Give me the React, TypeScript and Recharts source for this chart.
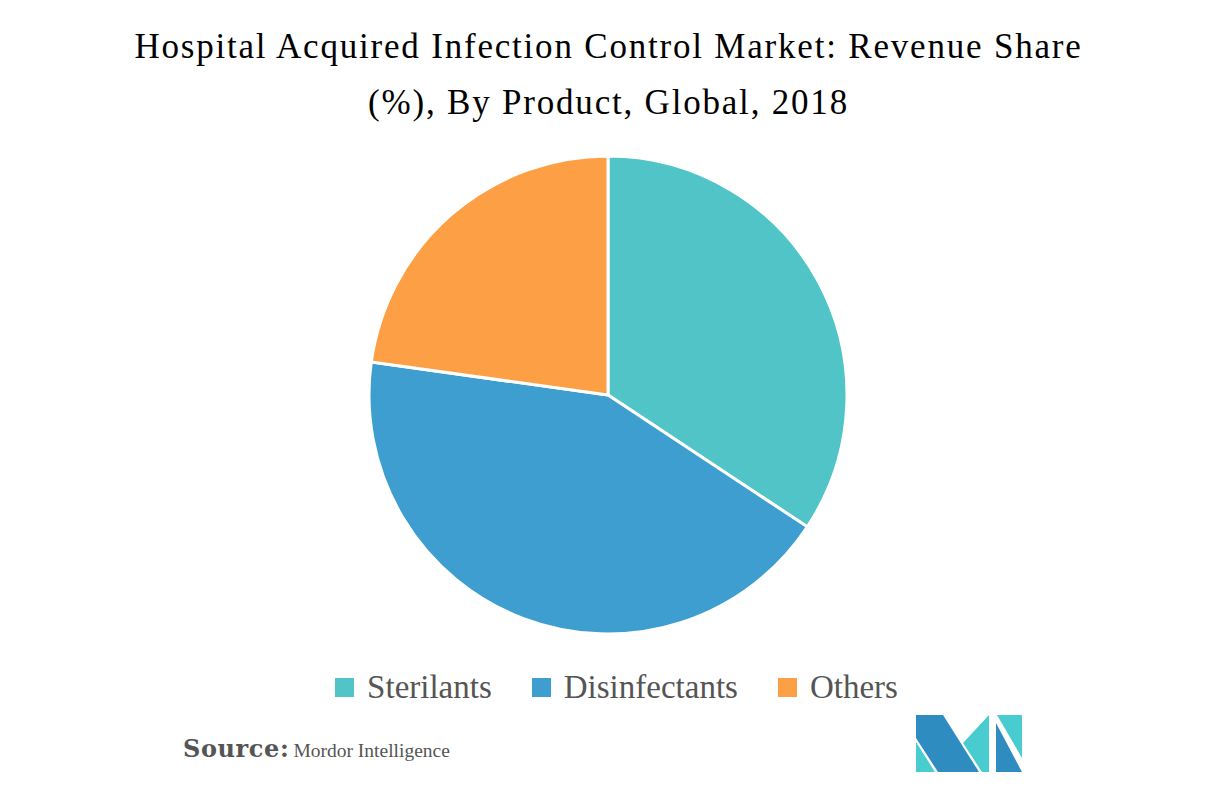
import React from 'react';
import { PieChart, Pie, Cell } from 'recharts';

// ---------------------------------------------------------------------------
// Data
// ---------------------------------------------------------------------------

const products = ['Sterilants', 'Disinfectants', 'Others'];
const shares = [34.3, 42.9, 22.8];
const colors = ['#50C4C7', '#3E9ECF', '#FDA045'];

const titleLines = [
  'Hospital Acquired Infection Control Market: Revenue Share',
  '(%), By Product, Global, 2018',
];

const chartData = products.map((name, i) => ({ name, value: shares[i] }));

const SERIF = '"Liberation Serif", "Times New Roman", serif';

// Mordor Intelligence logo (decorative)
function Logo() {
  return (
    <svg width={1217} height={786} style={{ position: 'absolute', left: 0, top: 0, pointerEvents: 'none' }}>
      <polygon points="916,715 943,715 979,772 938,772 916,738" fill="#2E8CC0" />
      <polygon points="916,742 916,772 935,772" fill="#48CCCF" />
      <polygon points="989,715 989,772 982,772 963,743" fill="#48CCCF" />
      <polygon points="997,715 1022,715 1022,758" fill="#48CCCF" />
      <polygon points="996,723 996,772 1022,772" fill="#2E8CC0" />
    </svg>
  );
}

export default function App() {
  return (
    <div style={{ position: 'relative', width: 1217, height: 786, background: '#fff', overflow: 'hidden' }}>
      <style>{'body{margin:0}'}</style>

      {/* Title */}
      <div
        style={{
          position: 'absolute',
          top: 19,
          left: 0,
          width: 1217,
          textAlign: 'center',
          fontFamily: SERIF,
          fontSize: 35,
          letterSpacing: 1.8,
          lineHeight: '56px',
          color: '#000',
        }}
      >
        {titleLines.map((t) => (
          <div key={t}>{t}</div>
        ))}
      </div>

      {/* Pie */}
      <div style={{ position: 'absolute', left: 0, top: 0 }}>
        <PieChart width={1217} height={786} margin={{ top: 0, right: 0, bottom: 0, left: 0 }}>
          <Pie
            data={chartData}
            dataKey="value"
            nameKey="name"
            cx={608}
            cy={395}
            outerRadius={239}
            startAngle={90}
            endAngle={-270}
            stroke="#fff"
            strokeWidth={3}
            isAnimationActive={false}
          >
            {chartData.map((d, i) => (
              <Cell key={d.name} fill={colors[i]} />
            ))}
          </Pie>
        </PieChart>
      </div>

      {/* Legend */}
      <div
        style={{
          position: 'absolute',
          top: 668,
          left: 8,
          width: 1217,
          display: 'flex',
          justifyContent: 'center',
          alignItems: 'center',
          fontFamily: SERIF,
          fontSize: 33,
          lineHeight: '38px',
          color: '#555',
        }}
      >
        {products.map((p, i) => (
          <div key={p} style={{ display: 'flex', alignItems: 'center', marginRight: i < products.length - 1 ? 40 : 0 }}>
            <span style={{ display: 'inline-block', width: 19, height: 19, background: colors[i], marginRight: 13 }} />
            <span>{p}</span>
          </div>
        ))}
      </div>

      {/* Source */}
      <div
        style={{
          position: 'absolute',
          left: 183,
          top: 734,
          fontFamily: SERIF,
          color: '#555',
          whiteSpace: 'nowrap',
        }}
      >
        <span style={{ fontFamily: '"DejaVu Serif", serif', fontWeight: 900, fontSize: 24, letterSpacing: 0.6 }}>Source:</span>
        <span style={{ fontSize: 19.5, marginLeft: 4 }}>Mordor Intelligence</span>
      </div>

      <Logo />
    </div>
  );
}
